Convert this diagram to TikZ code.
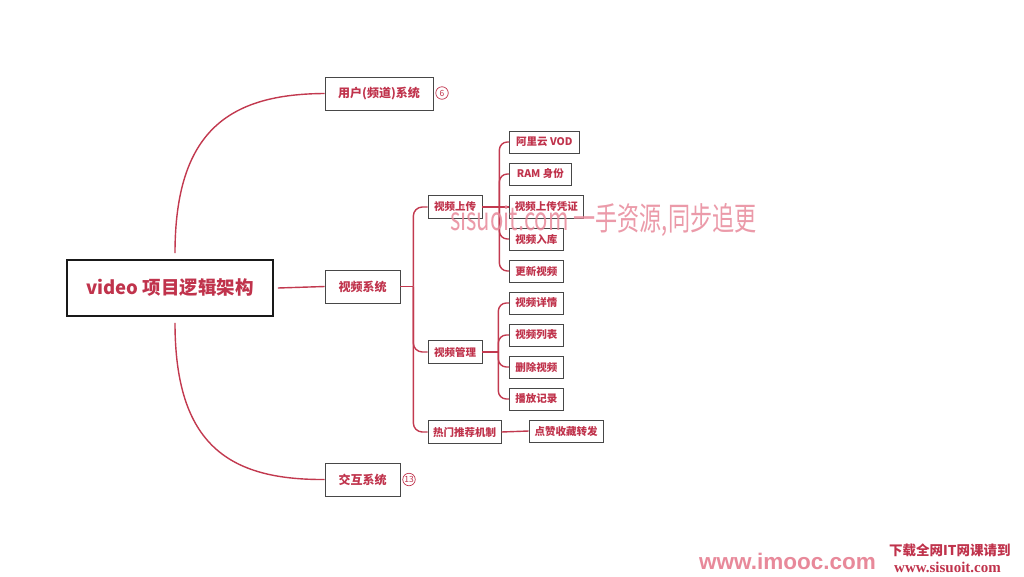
\documentclass[tikz,border=0pt]{standalone}
\usepackage{fontspec}
\setmainfont{Noto Sans CJK SC}
\newfontfamily\wmserif{Liberation Serif}
\newfontfamily\wmsans{Liberation Sans}
\usetikzlibrary{shadows,calc}
\definecolor{mred}{HTML}{C0334C}
\definecolor{lred}{HTML}{C2394F}
\definecolor{wpink}{HTML}{E8899A}
\tikzset{
  x=1pt,y=-1pt,
  box/.style={draw=black!72, line width=0.7pt, fill=white, text=mred,
    font=\bfseries\fontsize{10.5}{12}\selectfont, inner sep=0pt,
    drop shadow={shadow xshift=0.9pt, shadow yshift=-0.9pt, fill=black!55, opacity=1}},
  lvbox/.style={box, font=\bfseries\fontsize{12}{14}\selectfont},
  rootbox/.style={draw=black!90, line width=1.6pt, fill=white, text=mred,
    font=\bfseries\fontsize{18.5}{21}\selectfont, inner sep=0pt,
    drop shadow={shadow xshift=1pt, shadow yshift=-1pt, fill=black!70, opacity=1}},
  link/.style={draw=lred, line width=1.4pt},
  badge/.style={circle, draw=mred, line width=0.7pt, text=mred, inner sep=0pt,
    minimum size=12.5pt, font=\fontsize{8.5}{9}\selectfont},
}
\begin{document}
\begin{tikzpicture}
\useasboundingbox[fill=white] (0,0) rectangle (1024,576);

% nodes
\node[rootbox, minimum width=206pt, minimum height=56pt] (root) at (170,288) {video 项目逻辑架构};
\node[lvbox, minimum width=108pt, minimum height=33pt] (user) at (379,93.5) {用户(频道)系统};
\node[lvbox, minimum width=75pt, minimum height=33pt] (vs) at (362.5,286.5) {视频系统};
\node[lvbox, minimum width=75pt, minimum height=33pt] (ia) at (362.5,479.5) {交互系统};
\node[badge] (b6) at (442,93) {6};
\node[badge] (b13) at (409,479.5) {13};

\node[box, minimum width=54pt, minimum height=23pt] (vu) at (455,207) {视频上传};
\node[box, minimum width=54pt, minimum height=23pt] (vm) at (455,352) {视频管理};
\node[box, minimum width=73pt, minimum height=23pt] (hot) at (464.5,432) {热门推荐机制};
\node[box, minimum width=74pt, minimum height=22pt] (like) at (566,431) {点赞收藏转发};

\node[box, anchor=west, minimum width=70pt, minimum height=22pt] (c1) at (509,142) {阿里云 VOD};
\node[box, anchor=west, minimum width=62pt, minimum height=22pt] (c2) at (509,174) {RAM 身份};
\node[box, anchor=west, minimum width=74pt, minimum height=23pt] (c3) at (509,207) {视频上传凭证};
\node[box, anchor=west, minimum width=54pt, minimum height=22pt] (c4) at (509,239) {视频入库};
\node[box, anchor=west, minimum width=54pt, minimum height=22pt] (c5) at (509,271) {更新视频};

\node[box, anchor=west, minimum width=54pt, minimum height=22pt] (m1) at (509,303) {视频详情};
\node[box, anchor=west, minimum width=54pt, minimum height=22pt] (m2) at (509,335) {视频列表};
\node[box, anchor=west, minimum width=54pt, minimum height=22pt] (m3) at (509,367) {删除视频};
\node[box, anchor=west, minimum width=54pt, minimum height=22pt] (m4) at (509,399) {播放记录};

% connectors from root
\draw[link] ($(root.north)+(5,-6)$) coordinate (rt) .. controls (175,130) and (230,94) .. (user.west);
\draw[link] ($(root.south)+(5,6)$) coordinate (rb) .. controls (175,446) and (230,480) .. (ia.west);
\draw[link] ($(root.east)+(4,0)$) coordinate (re) -- (vs.west);

% video system bracket
\coordinate (vsj) at ($(vs.east)+(13,0)$);
\draw[link] (vs.east) -- (vsj);
\draw[link, rounded corners=9pt] (vsj) |- (vu.west);
\draw[link, rounded corners=9pt] (vsj) |- (vm.west);
\draw[link, rounded corners=9pt] (vsj) |- (hot.west);

% upload bracket
\coordinate (vuj) at ($(vu.east)+(17,0)$);
\draw[link] (vu.east) -- (c3.west);
\draw[link, rounded corners=8pt] (vuj) |- (c1.west);
\draw[link, rounded corners=8pt] (vuj) |- (c2.west);
\draw[link, rounded corners=8pt] (vuj) |- (c4.west);
\draw[link, rounded corners=8pt] (vuj) |- (c5.west);

% management bracket
\coordinate (vmj) at ($(vm.east)+(16,0)$);
\draw[link] (vm.east) -- (vmj);
\draw[link, rounded corners=8pt] (vmj) |- (m1.west);
\draw[link, rounded corners=8pt] (vmj) |- (m2.west);
\draw[link, rounded corners=8pt] (vmj) |- (m3.west);
\draw[link, rounded corners=8pt] (vmj) |- (m4.west);

\draw[link] (hot.east) -- (like.west);

% watermarks
\node[text=wpink, opacity=0.85, font=\fontsize{32}{34}\selectfont, xscale=0.69, anchor=west, inner sep=0pt] (wm1) at (450,220) {sisuoit.com 一手资源,同步追更};
\node[text=wpink, font=\wmsans\bfseries\fontsize{22.5}{24}\selectfont, anchor=west, inner sep=0pt] (wm2) at (699,561) {www.imooc.com};
\node[text=mred, font=\bfseries\fontsize{13.5}{14}\selectfont, anchor=west, inner sep=0pt] (wm3) at (889,550) {下载全网IT网课请到};
\node[text=mred, font=\wmserif\bfseries\fontsize{15}{16}\selectfont, anchor=west, inner sep=0pt] (wm4) at (894,567) {www.sisuoit.com};
\end{tikzpicture}
\end{document}
